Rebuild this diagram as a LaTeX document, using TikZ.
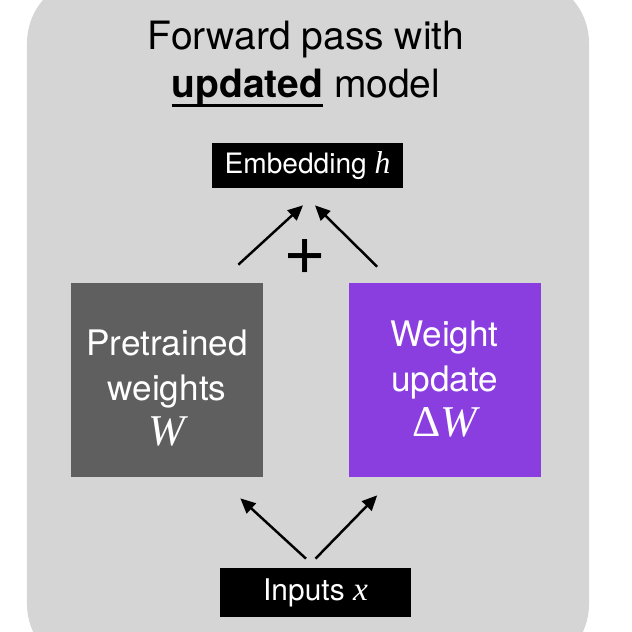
\documentclass[tikz,border=0pt]{standalone}
\usepackage{fontspec}
\setmainfont{TeX Gyre Heros}
\newfontfamily\mathserif{Liberation Serif}
\definecolor{panelgray}{RGB}{213, 213, 213}
\definecolor{weightgray}{RGB}{95, 95, 95}
\definecolor{updpurple}{RGB}{138, 62, 224}
\usetikzlibrary{arrows.meta, positioning, calc}
\newcommand{\thickul}[1]{\setbox0\hbox{#1}\rlap{\rule[-0.24em]{\wd0}{1.6pt}}\box0\relax}
\newcommand{\vsym}[1]{{\mathserif\itshape #1}}

\begin{document}
\begin{tikzpicture}
  \useasboundingbox (0, 0) rectangle (12.64, -12.64);
  \clip (0, 0) rectangle (12.64, -12.64);
  \tikzset{
    blackbox/.style={fill=black, text=white, minimum width=3.82cm, inner sep=0pt},
    weightbox/.style={minimum width=3.84cm, minimum height=3.88cm, inner sep=0pt},
    boxtext/.style={text=white, align=center, font=\fontsize{20}{25.5}\selectfont},
    arr/.style={-{Triangle[length=0.3cm, width=0.27cm]}, line width=1.4pt}
  }

  % Background panel
  \fill[panelgray, rounded corners=1.32cm] (0.54, 0.46) rectangle (11.78, -13.4);

  % Title
  \node[align=center, font=\fontsize{22.2}{27.5}\selectfont] (title) at (6.12, -1.28) {
    Forward pass with\\
    \thickul{\textbf{updated}} model
  };

  % Embedding and inputs
  \node[blackbox, minimum height=0.9cm, font=\fontsize{16}{18}\selectfont] (emb) at (6.15, -3.31) {Embedding \vsym{\fontsize{18}{18}\selectfont h}};
  \node[blackbox, minimum height=0.98cm, font=\fontsize{17}{19}\selectfont] (inp) at (6.31, -11.85) {Inputs \vsym{\fontsize{19}{19}\selectfont x}};

  % Weight boxes
  \node[weightbox, fill=weightgray] (pre) at (3.34, -7.6) {};
  \node[boxtext] (pretxt) at ([yshift=-0.16cm]pre.center) {
    Pretrained\\ weights\\ \vsym{\fontsize{25}{25}\selectfont W}
  };
  \node[weightbox, fill=updpurple] (upd) at (8.89, -7.6) {};
  \node[boxtext] (updtxt) at ([yshift=0.02cm]upd.center) {
    Weight\\ update\\ {\fontsize{25}{25}\selectfont\mathserif Δ\itshape W}
  };

  % Plus sign
  \node[font=\fontsize{42}{42}\selectfont, inner sep=0pt] (plus) at (6.1, -5.14) {+};

  % Arrows
  \draw[arr] ([xshift=-0.5cm, yshift=0.36cm]pre.north east) -- ([xshift=-0.09cm, yshift=-0.34cm]emb.south);
  \draw[arr] ([xshift=0.58cm, yshift=0.32cm]upd.north west) -- ([xshift=0.15cm, yshift=-0.34cm]emb.south);
  \draw[arr] ([xshift=-0.19cm, yshift=0.18cm]inp.north) -- ([xshift=-0.46cm, yshift=-0.42cm]pre.south east);
  \draw[arr] ([xshift=0.0cm, yshift=0.18cm]inp.north) -- ([xshift=0.58cm, yshift=-0.36cm]upd.south west);
\end{tikzpicture}
\end{document}
